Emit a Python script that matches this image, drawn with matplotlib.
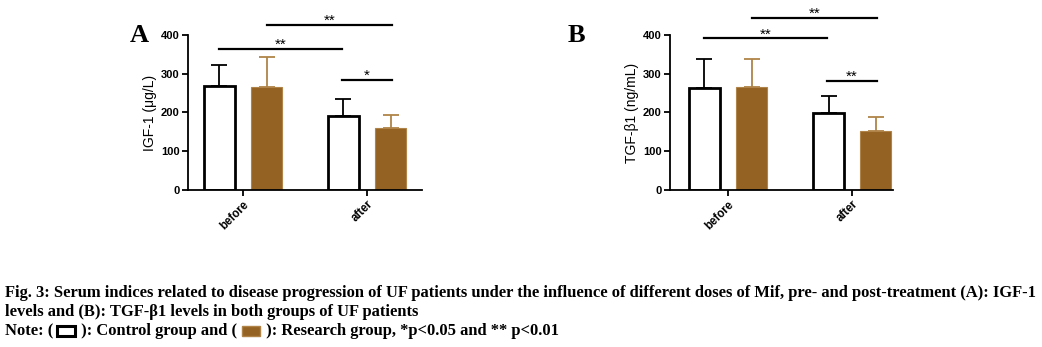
import matplotlib
matplotlib.use("Agg")
import matplotlib.pyplot as plt
from matplotlib.patches import Rectangle

# datos
grupos = ["before", "after"]
igf_control = [268, 191]
igf_control_err = [54, 44]
igf_research = [265, 159]
igf_research_err = [77, 35]
tgf_control = [262, 198]
tgf_control_err = [75, 45]
tgf_research = [267, 153]
tgf_research_err = [71, 36]

# (x1, x2, y, texto)
sig_a = [(0.19, 1.2, 426, "**"), (-0.19, 0.8, 364, "**"), (0.8, 1.2, 284, "*")]
sig_b = [(0.19, 1.2, 445, "**"), (-0.19, 0.8, 391, "**"), (0.8, 1.2, 282, "**")]

MARRON = "#946222"
BORDE_MARRON = "#b08448"
W = 1042
H = 347

plt.rcParams["font.family"] = ["Liberation Sans", "DejaVu Sans"]

fig = plt.figure(figsize=(W / 100, H / 100), dpi=100)


def panel(rect, xlim, control, control_err, research, research_err, sig, ylabel, letra, letra_x):
    ax = fig.add_axes(rect)
    x = list(range(len(grupos)))
    xc = [v - 0.19 for v in x]
    xr = [v + 0.19 for v in x]
    ax.bar(xc, control, width=0.25, color="white", edgecolor="black", linewidth=2, zorder=2)
    ax.bar(xr, research, width=0.25, color=MARRON, edgecolor=BORDE_MARRON, linewidth=0.8, zorder=2)
    ax.errorbar(xc, control, yerr=[[0] * len(x), control_err], fmt="none", ecolor="black",
                elinewidth=1.3, capsize=5.8, capthick=1.3, zorder=1)
    ax.errorbar(xr, research, yerr=[[0] * len(x), research_err], fmt="none", ecolor=BORDE_MARRON,
                elinewidth=1.3, capsize=5.8, capthick=1.3, zorder=1)
    ax.set_xlim(*xlim)
    ax.set_ylim(0, 400)
    ax.set_yticks([0, 100, 200, 300, 400])
    ax.set_xticks(x)
    ax.set_xticklabels(grupos, rotation=45, ha="right", rotation_mode="anchor",
                       fontsize=8.3, fontweight="bold")
    for t in ax.get_yticklabels():
        t.set_fontsize(8)
        t.set_fontweight("bold")
    ax.tick_params(axis="both", width=1.3, length=4, color="black", pad=2)
    ax.set_ylabel(ylabel, fontsize=10, labelpad=3)
    for lado in ("top", "right"):
        ax.spines[lado].set_visible(False)
    for lado in ("left", "bottom"):
        ax.spines[lado].set_linewidth(1.3)
    for x1, x2, y, txt in sig:
        ax.plot([x1, x2], [y, y], color="black", linewidth=1.6, clip_on=False)
        ax.annotate(txt, ((x1 + x2) / 2, y), xytext=(0, 0), textcoords="offset points",
                    ha="center", va="baseline", fontsize=11, annotation_clip=False)
    fig.text(letra_x, 1 - 36 / H, letra, fontsize=19, fontweight="bold",
             family="Liberation Serif", ha="center", va="center")
    return ax


panel([188 / W, 1 - 190 / H, 234 / W, 155 / H], (-0.444, 1.444),
      igf_control, igf_control_err, igf_research, igf_research_err, sig_a,
      "IGF-1 (\u03bcg/L)", "A", 139 / W)
panel([670 / W, 1 - 190 / H, 223 / W, 155 / H], (-0.468, 1.33),
      tgf_control, tgf_control_err, tgf_research, tgf_research_err, sig_b,
      "TGF-\u03b21 (ng/mL)", "B", 576 / W)

# pie de figura
fuente = dict(fontsize=11.9, fontweight="bold", family="Liberation Serif", va="center")
fig.text(5 / W, 1 - 293 / H,
         "Fig. 3: Serum indices related to disease progression of UF patients under the influence "
         "of different doses of Mif, pre- and post-treatment (A): IGF-1", **fuente)
fig.text(5 / W, 1 - 312 / H, "levels and (B): TGF-\u03b21 levels in both groups of UF patients", **fuente)

fig.canvas.draw()
renderer = fig.canvas.get_renderer()
y_nota = 1 - 331 / H
piezas = ["Note: ( ", "caja_blanca", " ): Control group and ( ", "caja_marron",
          " ): Research group, *p<0.05 and ** p<0.01"]
x_px = 5
for pieza in piezas:
    if pieza.startswith("caja"):
        ancho, alto = 18, 10
        if pieza == "caja_blanca":
            caja = Rectangle((x_px / W, y_nota - alto / 2 / H), ancho / W, alto / H,
                             transform=fig.transFigure, facecolor="white", edgecolor="black", linewidth=2.2)
        else:
            caja = Rectangle((x_px / W, y_nota - alto / 2 / H), ancho / W, alto / H,
                             transform=fig.transFigure, facecolor=MARRON, edgecolor=BORDE_MARRON, linewidth=1)
        fig.add_artist(caja)
        x_px += ancho + 2
    else:
        t = fig.text(x_px / W, y_nota, pieza, **fuente)
        x_px = t.get_window_extent(renderer).x1

fig.savefig("out.png", dpi=100)
